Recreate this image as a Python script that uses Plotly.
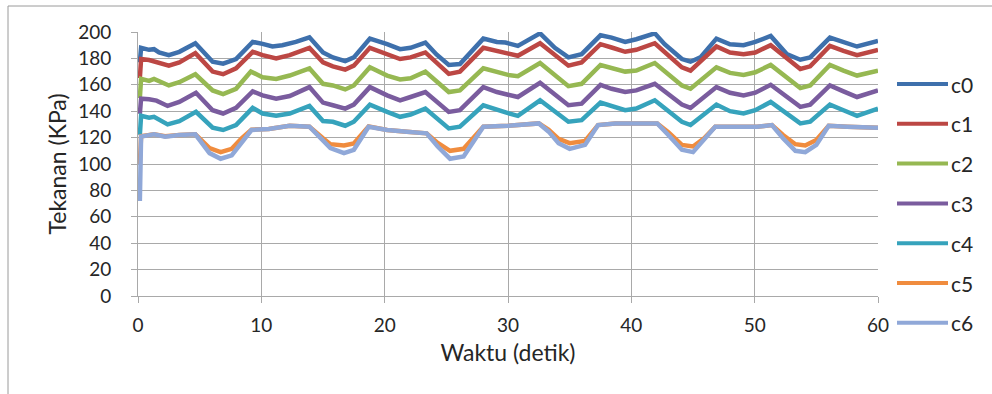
import plotly.graph_objects as go

# Pressure readings (KPa) of the seven channels over one minute
series_names = ["c0", "c1", "c2", "c3", "c4", "c5", "c6"]
series_colors = ["#3E70AC", "#BC4744", "#96B852", "#7A5C9E", "#36A3BC", "#F08C3E", "#90A8D8"]

t_c0 = [0.15, 0.25, 0.9, 1.3, 1.7, 2.5, 3.35, 3.9, 4.65, 6.05, 6.9, 7.95, 9.3, 10.1, 10.9, 11.7, 12.8, 13.9,
        15.0, 15.8, 16.8, 17.5, 18.8, 20.2, 21.25, 22.1, 23.3, 24.2, 25.2, 26.1, 28.0, 29.1, 29.8, 30.8,
        32.6, 33.8, 34.9, 35.97, 37.5, 38.4, 39.5, 40.4, 41.9, 42.7, 44.1, 44.8, 45.6, 46.9, 48.0, 49.1,
        50.05, 51.3, 52.6, 53.7, 54.5, 56.1, 57.2, 58.3, 60.0]
v_c0 = [177, 188, 186.5, 187, 184.5, 182.5, 185, 187.5, 191.5, 177.5, 176, 179.5, 192.5, 191, 189, 190, 192.5, 196,
        184.5, 180.75, 178, 180.75, 195, 190.75, 187, 188, 192, 183, 175, 175.75, 195, 192.5, 192, 189.5,
        199, 188, 180.75, 183.25, 197.5, 195.75, 192.5, 194.5, 199, 190.75, 179.5, 177.5, 180.75, 195, 190.75, 190,
        192.5, 197, 183.25, 179, 180.75, 195.75, 192, 189, 193.25]

t_c1 = [0.15, 0.25, 0.9, 1.7, 2.5, 3.35, 4.65, 6.05, 6.9, 7.95, 9.3, 10.1, 11.2, 12.3, 13.9, 15.0, 15.8, 16.8,
        17.5, 18.8, 20.2, 21.25, 22.1, 23.3, 25.2, 26.1, 28.0, 29.1, 30.0, 30.8, 32.6, 34.9, 35.97, 37.5,
        38.4, 39.5, 40.4, 41.9, 44.1, 44.8, 46.9, 48.0, 49.1, 50.05, 51.3, 53.7, 54.5, 56.1, 57.2, 58.3, 60.0]
v_c1 = [165, 179.5, 178.75, 177, 174.5, 177, 184, 170, 168, 172.5, 185, 182.5, 180, 182.5, 188, 177, 174, 171.5,
        174.5, 188, 183, 179.5, 180.75, 184.5, 168.25, 170, 188, 185.75, 184, 182, 191.5, 174.5, 177, 190.75,
        188.25, 185, 186.5, 191.5, 173.25, 170.75, 189, 184.5, 183.25, 184.5, 190, 172, 174, 189.5, 185.75, 182.5, 186.5]

t_c2 = [0.15, 0.25, 0.9, 1.3, 2.5, 3.35, 4.65, 6.05, 6.9, 7.95, 9.15, 10.1, 11.2, 12.3, 13.9, 15.0, 15.8, 16.8,
        17.5, 18.8, 20.2, 21.25, 22.1, 23.3, 25.2, 26.1, 28.0, 29.1, 30.0, 30.8, 32.6, 34.9, 35.97, 37.5,
        38.4, 39.5, 40.4, 41.9, 44.1, 44.8, 46.9, 48.0, 49.1, 50.05, 51.3, 53.7, 54.5, 56.1, 57.2, 58.3, 60.0]
v_c2 = [150, 164.5, 163, 164.5, 159.5, 162, 168, 155.75, 153, 157, 170, 165.75, 164.5, 167, 172.5, 160.75, 159.5, 156.5,
        159.5, 173.25, 167, 164, 165, 170, 154.5, 155.75, 172.5, 169.5, 167.5, 166.5, 176.5, 159, 160.75, 175,
        172.5, 170, 170.75, 176.5, 159.5, 157, 173.25, 169, 167.5, 169.5, 175, 157.5, 159.5, 175, 170.75, 167, 170.75]

t_c3 = [0.15, 0.25, 0.9, 1.5, 2.4, 3.35, 4.7, 6.05, 6.9, 7.95, 9.3, 10.1, 11.2, 12.3, 13.9, 15.0, 15.8, 16.8,
        17.5, 18.8, 20.2, 21.25, 22.1, 23.3, 25.2, 26.1, 28.0, 29.1, 30.0, 30.8, 32.6, 34.9, 35.97, 37.5,
        38.4, 39.5, 40.4, 41.9, 44.1, 44.8, 46.9, 48.0, 49.1, 50.05, 51.3, 53.7, 54.5, 56.1, 57.2, 58.3, 60.0]
v_c3 = [138, 149.5, 149, 148, 144, 147, 154, 140.75, 138.25, 142.5, 155, 152, 149.5, 151.5, 158.25, 146.5, 144.5, 142,
        145, 158.25, 152, 148.25, 150.75, 154.5, 139.5, 140.75, 158.25, 154.5, 152.5, 150.75, 161.5, 144.5, 145.75, 160,
        157, 154.5, 155.75, 160.75, 145, 142.5, 158.25, 154, 152, 154, 160, 143.25, 145, 159.5, 155, 150.75, 155.75]

t_c4 = [0.15, 0.25, 0.9, 1.3, 2.4, 3.35, 4.7, 6.05, 6.9, 7.95, 9.3, 10.1, 11.2, 12.3, 13.9, 15.0, 15.8, 16.8,
        17.5, 18.8, 20.2, 21.25, 22.1, 23.3, 25.2, 26.1, 28.0, 29.1, 30.0, 30.8, 32.6, 34.9, 35.97, 37.5,
        38.4, 39.5, 40.4, 41.9, 44.1, 44.8, 46.9, 48.0, 49.1, 50.05, 51.3, 53.7, 54.5, 56.1, 57.2, 58.3, 60.0]
v_c4 = [122, 136.5, 135, 135.75, 130, 132.5, 139.5, 127.5, 125.75, 129.5, 142.5, 138.25, 136.5, 138.25, 144, 132.5, 132, 129,
        132, 145, 139.5, 135.75, 137.5, 142, 127, 128.25, 144.5, 140.75, 138.5, 136.5, 148.25, 132, 133.25, 146.5,
        144, 140.75, 142, 148.25, 132, 129.5, 145, 140, 138.25, 140.75, 147, 130.75, 132, 145, 140.75, 136.5, 142]

t_c5 = [0.15, 0.25, 1.3, 2.2, 3.35, 4.65, 5.8, 6.7, 7.6, 8.4, 9.2, 10.6, 12.3, 13.9, 15.0, 15.6, 16.7, 17.5,
        18.7, 20.2, 21.8, 23.4, 24.3, 25.3, 26.4, 28.0, 30.0, 31.1, 32.5, 33.3, 34.1, 35.0, 36.25, 37.3,
        38.7, 40.6, 42.1, 43.0, 44.1, 45.0, 45.9, 46.8, 48.3, 50.2, 51.4, 52.3, 53.3, 54.1, 55.0, 56.0,
        57.5, 58.8, 60.0]
v_c5 = [100, 121, 122.5, 121, 122, 122.5, 112, 109, 111.5, 119.5, 126, 126.5, 129, 128.25, 119.5, 115, 114, 115.5,
        128.5, 125.75, 124.5, 123.25, 116, 110, 111.5, 128.25, 129, 129.5, 130.75, 126, 119, 115.75, 117.5, 129.5,
        130.75, 130.75, 130.75, 124, 114.5, 113.25, 119.5, 128.25, 128.25, 128.25, 129.5, 122, 115, 114, 118.25, 129,
        128.25, 127.5, 127.5]

t_c6 = [0.15, 0.25, 1.3, 2.2, 3.35, 4.65, 5.8, 6.7, 7.6, 8.4, 9.2, 10.6, 12.3, 13.9, 15.0, 15.6, 16.7, 17.5,
        18.7, 20.2, 21.8, 23.4, 24.3, 25.3, 26.4, 28.0, 30.0, 31.1, 32.5, 33.3, 34.1, 35.0, 36.25, 37.3,
        38.7, 40.6, 42.1, 43.0, 44.1, 45.0, 45.9, 46.8, 48.3, 50.2, 51.4, 52.3, 53.3, 54.1, 55.0, 56.0,
        57.5, 58.8, 60.0]
v_c6 = [72, 120.75, 122.5, 120.75, 122, 122.5, 108.25, 104, 106.5, 115.75, 125.75, 126.5, 129, 128.25, 117, 112, 108.25, 110.75,
        128.25, 125.75, 124.5, 123.25, 113.25, 104, 105.75, 128.25, 129, 129.5, 130.75, 124.5, 115.75, 111.5, 114.5, 129.5,
        130.75, 130.75, 130.75, 122, 110.75, 109, 118.25, 128.25, 128.25, 128.25, 129.5, 119.5, 110, 109, 114.5, 129,
        128.25, 127.5, 127.5]

times = [t_c0, t_c1, t_c2, t_c3, t_c4, t_c5, t_c6]
values = [v_c0, v_c1, v_c2, v_c3, v_c4, v_c5, v_c6]

x_ticks = [0, 10, 20, 30, 40, 50, 60]
y_ticks = [0, 20, 40, 60, 80, 100, 120, 140, 160, 180, 200]

FONT = "Lato"
TEXT = "#262626"
GRID = "#A9A9A9"
TICK_SIZE = 19
TITLE_SIZE = 23
LEGEND_SIZE = 21

fig = go.Figure()
for name, color, t, v in zip(series_names, series_colors, times, values):
    fig.add_trace(go.Scatter(x=t, y=v, mode="lines", name=name,
                             line=dict(color=color, width=4.5), showlegend=False))

# Page geometry (pixels) used to place the plot area, frame and legend
W, H = 992, 394
L, R, T, B = 138, 878, 32, 296


def px(xp):
    return (xp - L) / (R - L)


def py(yp):
    return (B - yp) / (B - T)


shapes = [
    # outer chart frame
    dict(type="line", xref="paper", yref="paper", x0=px(8), x1=px(8), y0=py(6), y1=py(H + 5),
         line=dict(color="#9A9A9A", width=1)),
    dict(type="line", xref="paper", yref="paper", x0=px(8), x1=px(W + 5), y0=py(6), y1=py(6),
         line=dict(color="#9A9A9A", width=1)),
]
annotations = []

# legend: line sample + label per series
for i, (name, color) in enumerate(zip(series_names, series_colors)):
    yy = 84 + i * 39.8
    shapes.append(dict(type="line", xref="paper", yref="paper", x0=px(897), x1=px(948),
                       y0=py(yy), y1=py(yy), line=dict(color=color, width=4)))
    annotations.append(dict(xref="paper", yref="paper", x=px(949), y=py(yy), text=name,
                            showarrow=False, xanchor="left", yanchor="middle",
                            font=dict(family=FONT, size=LEGEND_SIZE, color=TEXT)))

fig.update_layout(
    width=W, height=H,
    margin=dict(l=L, r=W - R, t=T, b=H - B, autoexpand=False),
    paper_bgcolor="white", plot_bgcolor="white",
    shapes=shapes, annotations=annotations,
    font=dict(family=FONT, size=TICK_SIZE, color=TEXT),
    xaxis=dict(range=[0, 60], tickvals=x_ticks, showgrid=True, gridcolor=GRID, gridwidth=1,
               showline=True, linecolor=GRID, linewidth=1, ticks="outside", ticklen=6,
               tickcolor=GRID, zeroline=False, ticklabelstandoff=6,
               tickfont=dict(family=FONT, size=TICK_SIZE, color=TEXT),
               title=dict(text="Waktu (detik)", standoff=10,
                          font=dict(family=FONT, size=TITLE_SIZE, color=TEXT))),
    yaxis=dict(range=[0, 200], tickvals=y_ticks, showgrid=True, gridcolor=GRID, gridwidth=1,
               showline=True, linecolor=GRID, linewidth=1, ticks="outside", ticklen=6,
               tickcolor=GRID, zeroline=False, ticklabelstandoff=16,
               tickfont=dict(family=FONT, size=TICK_SIZE, color=TEXT),
               title=dict(text="Tekanan (KPa)", standoff=5,
                          font=dict(family=FONT, size=TITLE_SIZE, color=TEXT))),
)

fig.write_html("out.html")
